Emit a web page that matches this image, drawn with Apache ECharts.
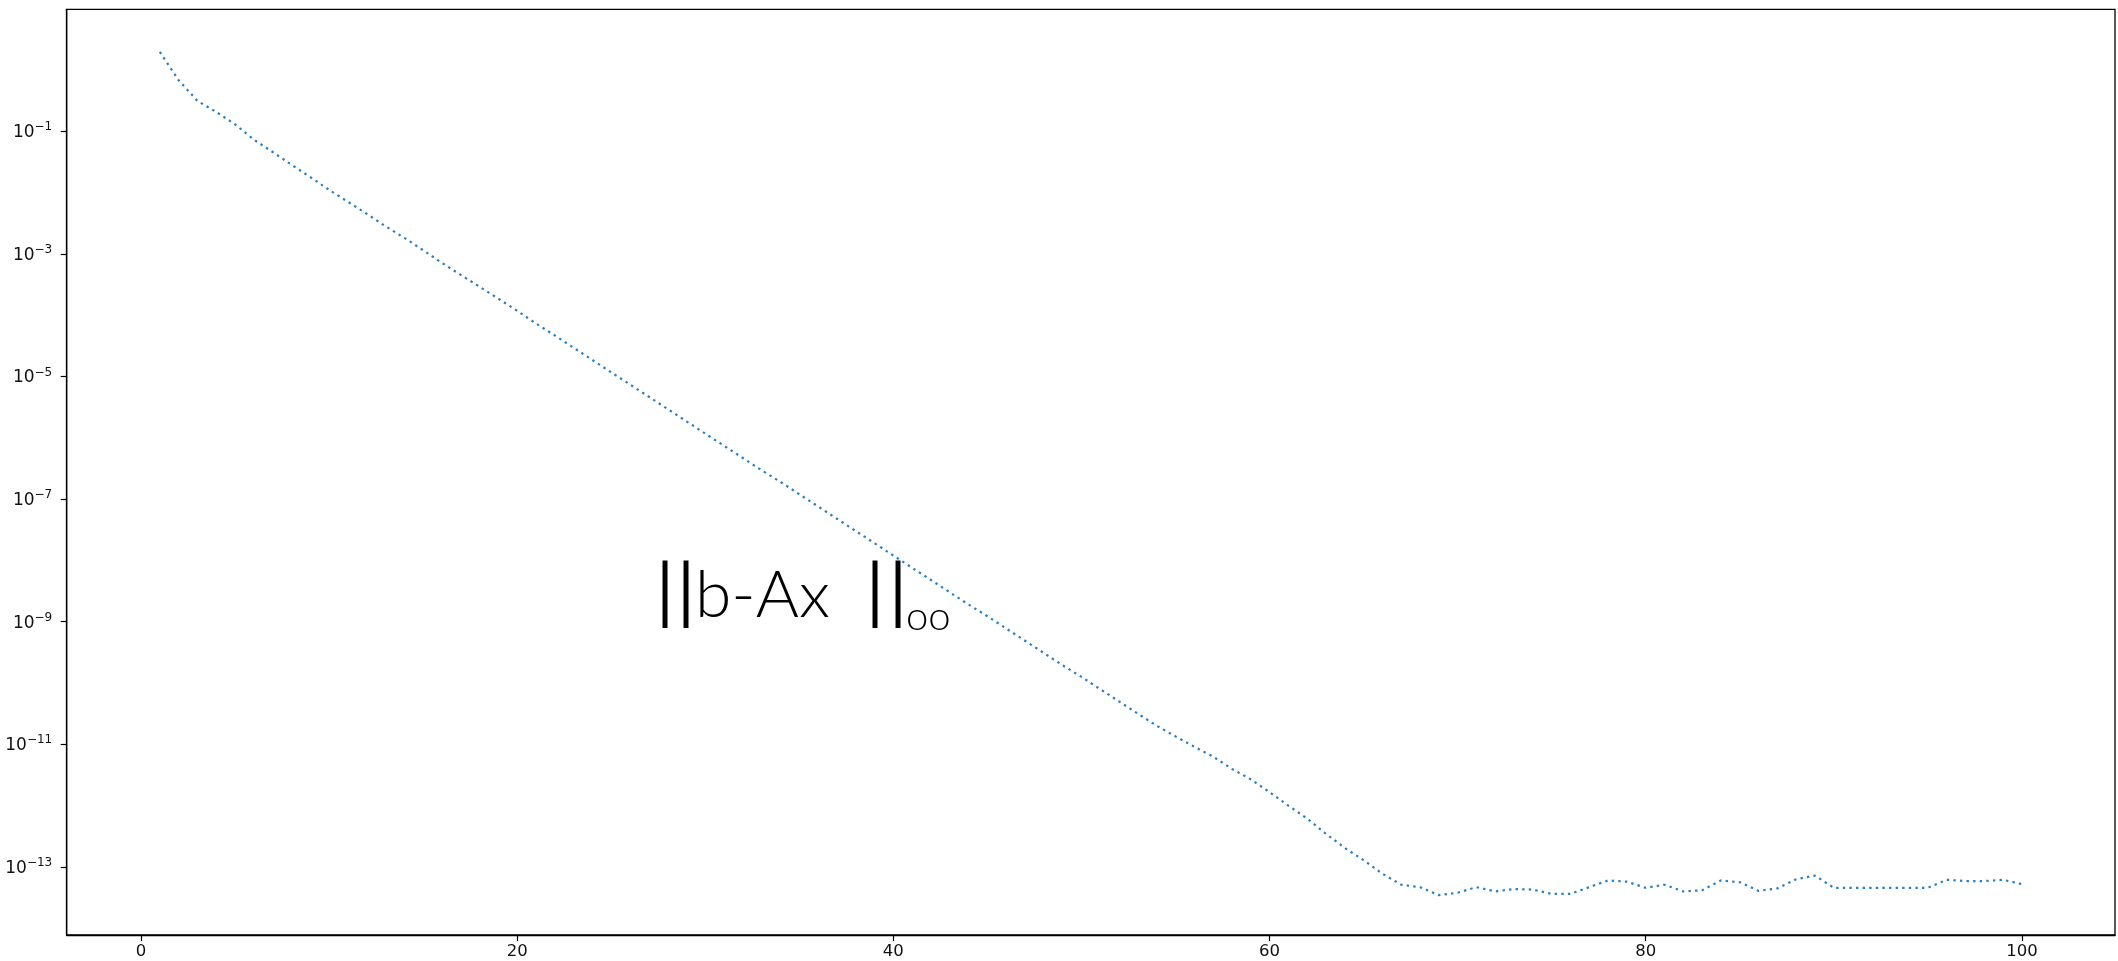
<!DOCTYPE html>
<html>
<head>
<meta charset="utf-8">
<script src="https://cdn.jsdelivr.net/npm/echarts@6/dist/echarts.min.js"></script>
<style>
  html, body { margin: 0; padding: 0; background: #fff; }
  #chart { width: 2118px; height: 961px; }
</style>
</head>
<body>
<div id="chart"></div>
<script>
// ---- data ----
const iterations = [
  1,2,3,4,5,6,7,8,9,10,11,12,13,14,15,16,17,18,19,20,
  21,22,23,24,25,26,27,28,29,30,31,32,33,34,35,36,37,38,39,40,
  41,42,43,44,45,46,47,48,49,50,51,52,53,54,55,56,57,58,59,60,
  61,62,63,64,65,66,67,68,69,70,71,72,73,74,75,76,77,78,79,80,
  81,82,83,84,85,86,87,88,89,90,91,92,93,94,95,96,97,98,99,100
];
const residual = [
  1.98, 0.682, 0.313, 0.207, 0.130, 0.0731, 0.0459, 0.0285, 0.0179, 0.0111,
  7.08e-3, 4.51e-3, 2.82e-3, 1.83e-3, 1.15e-3, 7.13e-4, 4.54e-4, 2.92e-4, 1.86e-4, 1.18e-4,
  7.33e-5, 4.68e-5, 2.95e-5, 1.86e-5, 1.17e-5, 7.41e-6, 4.68e-6, 2.95e-6, 1.86e-6, 1.17e-6,
  7.41e-7, 4.68e-7, 2.95e-7, 1.91e-7, 1.20e-7, 7.59e-8, 4.79e-8, 3.02e-8, 1.91e-8, 1.20e-8,
  7.59e-9, 4.79e-9, 3.02e-9, 1.91e-9, 1.23e-9, 7.76e-10, 4.90e-10, 3.09e-10, 1.95e-10, 1.26e-10,
  7.94e-11, 5.01e-11, 3.16e-11, 2.01e-11, 1.35e-11, 9.12e-12, 6.31e-12, 3.98e-12, 2.69e-12, 1.66e-12,
  1.00e-12, 6.17e-13, 3.47e-13, 2.04e-13, 1.29e-13, 7.76e-14, 5.13e-14, 4.68e-14, 3.47e-14, 3.80e-14,
  4.68e-14, 3.98e-14, 4.37e-14, 4.27e-14, 3.63e-14, 3.63e-14, 4.68e-14, 6.03e-14, 5.75e-14, 4.57e-14,
  5.13e-14, 3.98e-14, 4.17e-14, 6.03e-14, 5.62e-14, 4.07e-14, 4.47e-14, 6.31e-14, 7.24e-14, 4.57e-14,
  4.57e-14, 4.57e-14, 4.57e-14, 4.57e-14, 4.57e-14, 6.17e-14, 5.89e-14, 5.89e-14, 6.17e-14, 5.25e-14
];
const xTicks = [0, 20, 40, 60, 80, 100];
const yTickExponents = [-1, -3, -5, -7, -9, -11, -13];
const yTicks = yTickExponents.map(e => Math.pow(10, e));
const annotationBars = '|';
const annotationBody = 'b-Ax';
const annotationSub = 'oo';

// ---- chart ----
const chart = echarts.init(document.getElementById('chart'), null, { renderer: 'canvas' });
const FONT = 'DejaVu Sans';
const bar = annotationBars;
const barStyle = (w) => ({ fontFamily: 'Lato', fontWeight: 400, fontSize: 72, width: w, align: 'left', verticalAlign: 'bottom', fill: '#000' });

const option = {
  animation: false,
  backgroundColor: '#ffffff',
  grid: {
    left: 66.7, top: 9.3, right: 3, bottom: 26,
    show: true, borderColor: '#000', borderWidth: 1.3, backgroundColor: '#fff',
    containLabel: false,
    outerBoundsMode: 'none'
  },
  xAxis: {
    type: 'value',
    min: -3.95, max: 104.95,
    splitLine: { show: false },
    axisLine: { show: true, onZero: false, lineStyle: { color: '#000', width: 1.3 } },
    axisTick: { show: true, length: 6, lineStyle: { color: '#000', width: 1.2 }, customValues: xTicks },
    axisLabel: {
      customValues: xTicks,
      margin: 8, color: '#111', fontFamily: FONT, fontSize: 16.5,
      formatter: v => String(v)
    }
  },
  yAxis: {
    type: 'log', logBase: 10,
    min: Math.pow(10, -14.11), max: Math.pow(10, 0.99),
    splitLine: { show: false },
    minorTick: { show: false },
    axisLine: { show: true, onZero: false, lineStyle: { color: '#000', width: 1.3 } },
    axisTick: { show: true, length: 6, lineStyle: { color: '#000', width: 1.2 }, customValues: yTicks },
    axisLabel: {
      customValues: yTicks,
      margin: 14.5, color: '#111',
      formatter: v => {
        const e = Math.round(Math.log10(v));
        return '{b|10}{s|' + (e < 0 ? '\u2212' + (-e) : String(e)) + '}';
      },
      rich: {
        b: { fontFamily: FONT, fontSize: 17, lineHeight: 20, verticalAlign: 'bottom', color: '#111' },
        s: { fontFamily: FONT, fontSize: 12, lineHeight: 13, verticalAlign: 'top', color: '#111' }
      }
    }
  },
  series: [{
    type: 'line',
    data: iterations.map((it, k) => [it, residual[k]]),
    showSymbol: false,
    symbol: 'none',
    lineStyle: { color: '#2a7fc0', width: 2.2, type: [2.4, 4.2], cap: 'butt' },
    emphasis: { disabled: true }
  }],
  graphic: [
    {
      type: 'text', left: 656, top: 557, z: 100,
      style: {
        text: '{bar1|' + bar + '}{bar2|' + bar + '}{t|' + annotationBody + '}{bar3|' + bar + '}{bar4|' + bar + '}',
        rich: {
          bar1: barStyle(21),
          bar2: barStyle(18),
          t: { fontFamily: 'Lato', fontWeight: 300, fontSize: 66, width: 171, align: 'left', verticalAlign: 'bottom', fill: '#000' },
          bar3: barStyle(23),
          bar4: barStyle(12)
        }
      }
    },
    {
      type: 'text', left: 906, top: 597, z: 100,
      style: { text: annotationSub, fontFamily: 'Lato', fontWeight: 300, fontSize: 40, fill: '#000' }
    }
  ]
};
chart.setOption(option);
</script>
</body>
</html>
